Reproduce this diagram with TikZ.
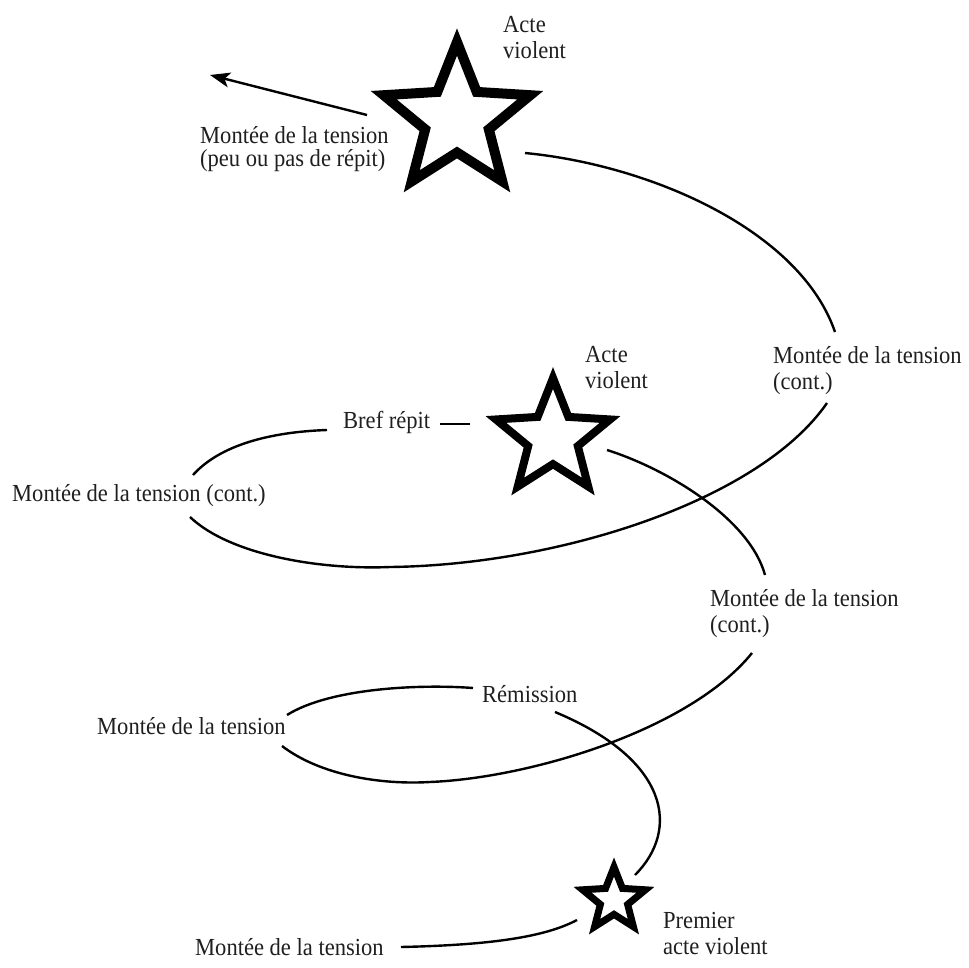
\documentclass[tikz,border=0pt]{standalone}
\usepackage{fontspec}
\setmainfont{Liberation Serif}[FakeStretch=0.92]
\usetikzlibrary{shapes.geometric,arrows.meta,calc}

\begin{document}
\begin{tikzpicture}[x=1pt,y=-1pt,
    etiquette/.style={anchor=north west,inner sep=0,align=left,text=black!88,
      font=\fontsize{24.5}{26}\selectfont},
    etoile/.style={star,star points=5,star point ratio=2.3,draw,inner sep=0},
    trait/.style={line width=2.4}]
  \useasboundingbox (0,0) rectangle (969,968);
  % les trois actes violents
  \node[etoile,line width=10,minimum size=154] (etoileA) at (457,119) {};
  \node[etoile,line width=8,minimum size=120] (etoileB) at (553,438) {};
  \node[etoile,line width=7,minimum size=66] (etoileC) at (614,900) {};
  % textes
  \node[etiquette] (acteA) at (503,16) {Acte\\violent};
  \node[etiquette,font=\fontsize{24.5}{23}\selectfont] (montee5) at (200,126)
    {Montée de la tension\\(peu ou pas de répit)};
  \node[etiquette] (montee4) at (773,346) {Montée de la tension\\(cont.)};
  \node[etiquette] (acteB) at (585,346) {Acte\\violent};
  \node[etiquette] (bref) at (343,411) {Bref répit};
  \node[etiquette] (montee3) at (12,484) {Montée de la tension (cont.)};
  \node[etiquette] (montee2) at (710,589) {Montée de la tension\\(cont.)};
  \node[etiquette] (remission) at (482,685) {Rémission};
  \node[etiquette] (montee1) at (97,717) {Montée de la tension};
  \node[etiquette] (premier) at (663,912) {Premier\\acte violent};
  \node[etiquette] (montee0) at (195,938) {Montée de la tension};
  % la spirale
  \draw[trait] ($(montee0.north west)+(206,9)$) .. controls +(90,-2) and +(-32,17) .. ($(etoileC)+(-37,20)$);
  \draw[trait] ($(etoileC)+(21,-25)$) .. controls +(45,-45) and +(115,48) .. ($(remission.north west)+(73,27)$);
  \draw[trait] ($(remission.north west)+(-9,3)$) .. controls +(-53,-4) and +(43,-27) .. ($(montee1.north west)+(190,-2)$);
  \draw[trait] ($(montee1.north west)+(185,29)$) .. controls +(38,29) and +(-50,3) .. (430,782)
    .. controls +(100,-4) and +(-62,77) .. ($(montee2.north west)+(42,64)$);
  \draw[trait] ($(etoileB)+(54,12)$) .. controls +(63,20) and +(-15,-55) .. ($(montee2.north west)+(55,-14)$);
  \draw[trait] ($(bref.north west)+(97,13)$) -- ($(etoileB)+(-83,-14)$);
  \draw[trait] ($(bref.north west)+(-16,19)$) .. controls +(-57,2) and +(27,-30) .. ($(montee3.north west)+(181,-9)$);
  \draw[trait] ($(montee3.north west)+(178,33)$) .. controls +(40,38) and +(-70,3) .. (390,567)
    .. controls +(170,-2) and +(-67,97) .. ($(montee4.north west)+(54,57)$);
  \draw[trait] ($(montee4.north west)+(62,-14)$) .. controls +(-35,-102) and +(125,12) .. ($(etoileA)+(68,34)$);
  \draw[trait,-{Stealth[length=20,width=15,inset=5]}] ($(etoileA)+(-90,-4)$) -- ($(montee5.north west)+(10,-51)$);
\end{tikzpicture}
\end{document}
